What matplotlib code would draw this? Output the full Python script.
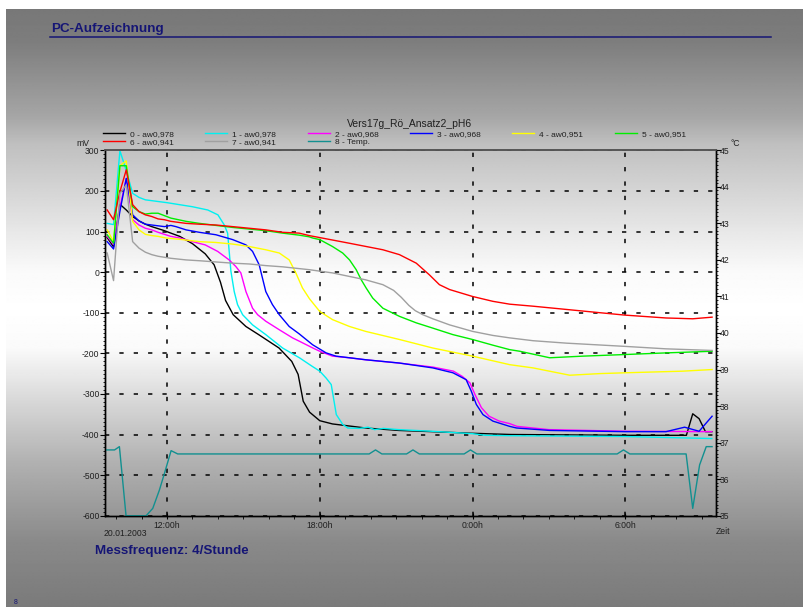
import numpy as np
import matplotlib
matplotlib.use('Agg')
import matplotlib.pyplot as plt
from matplotlib.lines import Line2D
from matplotlib.ticker import FixedLocator, MultipleLocator, FuncFormatter

plt.rcParams['font.family'] = ['Liberation Sans', 'DejaVu Sans']
plt.rcParams['axes.unicode_minus'] = False

# ---------------- data (hours since midnight of 20.01.2003) ----------------
labels = ['0 - aw0,978', '1 - aw0,978', '2 - aw0,968', '3 - aw0,968', '4 - aw0,951',
          '5 - aw0,951', '6 - aw0,941', '7 - aw0,941', '8 - Temp.']
colors = ['#000000', '#00f0f0', '#ff00ff', '#0000ff', '#ffff00',
          '#00ee00', '#ff0000', '#a0a0a0', '#129090']

t0 = [9.65, 9.90, 10.15, 10.40, 10.65, 10.90, 11.15, 11.40, 11.65, 11.90, 12.15, 12.5, 13.0, 13.5,
      13.85, 14.1, 14.3, 14.6, 15.1, 15.6, 16.4, 16.9, 17.15, 17.35, 17.6, 18.0, 18.5, 19.8, 21.1,
      22.4, 24.0, 25.5, 30.0, 32.4, 32.65, 32.9, 33.15, 33.4]
mv0 = [85, 62, 167, 153, 137, 126, 118, 112, 107, 102, 96, 88, 70, 45,
       18, -25, -70, -105, -134, -154, -187, -220, -252, -318, -345, -366, -374, -384, -390,
       -393, -397, -400, -402, -402, -349, -361, -393, -393]

t1 = [9.65, 9.90, 10.15, 10.40, 10.65, 10.90, 11.15, 12.0, 13.0, 13.6, 14.0, 14.25, 14.38, 14.51,
      14.64, 14.77, 14.97, 15.36, 15.88, 16.54, 17.2, 17.7, 18.0, 18.25, 18.45, 18.65, 18.9, 19.1,
      19.55, 19.9, 20.15, 20.5, 21.1, 22.4, 24.0, 24.5, 25.5, 30.0, 33.4]
mv1 = [120, 117, 299, 250, 194, 184, 178, 171, 161, 153, 141, 116, 96, 2,
       -48, -80, -105, -130, -154, -187, -211, -232, -244, -261, -277, -351, -375, -384,
       -385, -382, -388, -385, -388, -392, -398, -402, -403, -405, -410]

t2 = [9.65, 9.90, 10.15, 10.40, 10.65, 10.90, 11.15, 11.40, 11.65, 11.90, 12.15, 12.5, 13.0, 13.5,
      13.99, 14.44, 14.7, 14.9, 15.1, 15.36, 15.56, 15.88, 16.41, 16.93, 17.19, 17.73, 18.0, 18.5,
      19.15, 19.8, 21.1, 22.45, 23.25, 23.6, 23.9, 24.1, 24.35, 24.65, 25.05, 25.45, 25.75, 27.0,
      30.0, 33.4]
mv2 = [88, 68, 160, 230, 129, 116, 108, 104, 98, 93, 88, 84, 75, 67,
       51, 30, 14, -2, -48, -89, -105, -121, -142, -162, -170, -187, -195, -207,
       -211, -216, -224, -234, -244, -257, -273, -302, -334, -355, -367, -373, -380, -388,
       -392, -393]

t3 = [9.65, 9.90, 10.15, 10.40, 10.65, 10.90, 11.15, 11.40, 11.65, 11.90, 12.15, 12.35, 12.75, 13.27,
      13.92, 14.58, 15.1, 15.36, 15.62, 15.75, 15.88, 16.14, 16.41, 16.8, 17.19, 17.72, 18.25, 18.64,
      19.82, 21.13, 22.44, 23.23, 23.75, 23.95, 24.15, 24.41, 24.8, 25.46, 25.73, 27.03, 30.0, 31.6,
      32.33, 32.9, 33.41]
mv3 = [75, 57, 150, 231, 141, 126, 118, 116, 114, 112, 115, 112, 104, 98,
       92, 80, 67, 51, 18, -15, -48, -80, -105, -134, -152, -179, -199, -207,
       -216, -224, -236, -248, -265, -293, -326, -351, -367, -380, -384, -390, -393, -393,
       -382, -392, -355]

t4 = [9.65, 9.90, 10.15, 10.40, 10.65, 10.90, 11.15, 11.40, 11.65, 11.96, 12.61, 13.27, 13.92, 14.58,
      15.23, 15.88, 16.41, 16.8, 17.06, 17.32, 17.6, 18.0, 18.5, 19.17, 19.8, 21.13, 22.44, 24.0,
      25.46, 26.38, 27.82, 29.0, 30.0, 32.26, 33.41]
mv4 = [104, 75, 262, 274, 125, 104, 93, 90, 88, 84, 80, 75, 73, 69,
       63, 55, 47, 30, -2, -39, -66, -97, -117, -134, -146, -166, -187, -207,
       -228, -236, -254, -250, -248, -244, -240]

t5 = [9.65, 9.90, 10.15, 10.40, 10.65, 10.90, 11.15, 11.40, 11.65, 11.90, 12.15, 12.75, 13.27, 13.92,
      14.58, 15.23, 15.88, 16.54, 17.19, 17.58, 17.72, 18.0, 18.5, 18.9, 19.17, 19.43, 19.63, 19.82,
      20.08, 20.48, 21.13, 21.79, 22.44, 23.23, 24.0, 24.8, 25.46, 25.86, 27.03, 28.34, 30.0, 31.6,
      33.41]
mv5 = [92, 71, 262, 262, 161, 149, 143, 145, 145, 139, 133, 125, 120, 115,
       110, 106, 102, 96, 91, 87, 84, 80, 63, 47, 30, 6, -19, -39,
       -64, -89, -109, -125, -138, -154, -166, -180, -191, -195, -211, -207, -203, -199,
       -195]

t6 = [9.65, 9.90, 10.15, 10.40, 10.65, 10.90, 11.15, 11.40, 11.65, 11.90, 12.15, 12.75, 13.27, 13.92,
      14.58, 15.23, 15.88, 16.54, 17.19, 17.58, 18.0, 19.17, 20.48, 21.13, 21.79, 22.31, 22.57, 22.7,
      23.1, 24.0, 24.8, 25.46, 26.38, 27.69, 29.0, 30.0, 31.6, 32.65, 33.41]
mv6 = [153, 129, 198, 252, 166, 149, 141, 137, 131, 129, 125, 120, 118, 116,
       112, 108, 104, 98, 96, 90, 85, 71, 55, 43, 22, -7, -23, -31,
       -43, -60, -72, -79, -84, -92, -100, -106, -113, -115, -111]

t7 = [9.65, 9.90, 10.15, 10.40, 10.65, 10.90, 11.15, 11.40, 11.65, 12.15, 12.75, 13.27, 13.92, 14.58,
      15.23, 15.88, 16.54, 17.58, 18.5, 19.8, 20.48, 20.9, 21.2, 21.5, 21.75, 22.05, 22.44, 23.1,
      24.0, 24.8, 25.46, 26.38, 27.69, 30.0, 31.6, 33.41]
mv7 = [47, -21, 194, 215, 75, 59, 49, 43, 39, 34, 30, 28, 25, 22,
       20, 16, 13, 6, -2, -19, -31, -45, -62, -82, -95, -105, -115, -130,
       -146, -156, -162, -169, -175, -183, -189, -193]

t_temp = [9.61, 9.94, 10.13, 10.39, 10.65, 10.90, 11.18, 11.44, 11.70, 11.90, 12.16, 12.42,
          19.94, 20.19, 20.44, 21.41, 21.66, 21.91, 23.67, 23.92, 24.17, 29.68, 29.93, 30.18,
          32.39, 32.65, 32.92, 33.18, 33.41]
temp_c = [36.80, 36.80, 36.89, 35.0, 35.0, 35.0, 35.0, 35.2, 35.7, 36.16, 36.78, 36.69,
          36.69, 36.80, 36.69, 36.69, 36.80, 36.69, 36.69, 36.80, 36.69, 36.69, 36.80, 36.69,
          36.69, 35.2, 36.39, 36.89, 36.89]

mv_times = [t0, t1, t2, t3, t4, t5, t6, t7]
mv_values = [mv0, mv1, mv2, mv3, mv4, mv5, mv6, mv7]

x_major = [12, 18, 24, 30]
x_range = (9.564, 33.564)
mv_range = (-600, 300)
temp_range = (35, 45)

# ---------------- figure ----------------
W, H = 804, 607
fig = plt.figure(figsize=(W / 100, H / 100), dpi=100)
fig.patch.set_facecolor('white')

navy = '#151575'
txt = '#202020'

# slide background gradient
bg = fig.add_axes([0, 0, 1, 1], zorder=-10)
bg.set_xlim(0, W)
bg.set_ylim(H, 0)
bg.axis('off')
ys = np.linspace(9, H, 400)
stops_y = [9, 40, 116, 143, 271, 310, 349, 388, 465, 543, 607]
stops_c = [0.47, 0.49, 0.65, 0.75, 0.98, 1.0, 0.98, 0.88, 0.69, 0.54, 0.48]
col = np.interp(ys, stops_y, stops_c)
img = np.repeat(col[:, None], 2, axis=1)
bg.imshow(img, cmap='gray', vmin=0, vmax=1, extent=(6, W, H, 9), aspect='auto',
          interpolation='bilinear')

# main axes
ax = fig.add_axes([105 / W, 1 - 515.7 / H, 611 / W, 365.4 / H])
ax.patch.set_alpha(0)
ax.set_xlim(*x_range)
ax.set_ylim(*mv_range)
ax2 = ax.twinx()
ax2.set_ylim(*temp_range)
ax2.patch.set_alpha(0)

handles = []
for i in range(8):
    h, = ax.plot(mv_times[i], mv_values[i], color=colors[i], lw=1.0, label=labels[i],
                 solid_joinstyle='round')
    handles.append(h)
h, = ax2.plot(t_temp, temp_c, color=colors[8], lw=1.0, label=labels[8])
handles.append(h)

# spines
for a in (ax, ax2):
    a.spines['top'].set_color('#555555')
    a.spines['top'].set_linewidth(1.2)
    for s in ('left', 'bottom', 'right'):
        a.spines[s].set_color('black')
        a.spines[s].set_linewidth(1.0)

# ticks
ax.yaxis.set_major_locator(MultipleLocator(100))
ax.yaxis.set_minor_locator(MultipleLocator(10))
ax2.yaxis.set_major_locator(MultipleLocator(1))
ax2.yaxis.set_minor_locator(MultipleLocator(0.1))
ax.xaxis.set_major_locator(FixedLocator(x_major))
ax.xaxis.set_minor_locator(MultipleLocator(1))
ax.xaxis.set_major_formatter(FuncFormatter(lambda v, p: f"{int(round(v)) % 24}:00h"))
ax.yaxis.set_major_formatter(FuncFormatter(lambda v, p: f"{int(round(v))}"))
ax2.yaxis.set_major_formatter(FuncFormatter(lambda v, p: f"{int(round(v))}"))

ax.tick_params(axis='y', which='major', direction='out', length=3.6, width=0.8,
               labelsize=6.2, pad=0.3, labelcolor=txt)
ax.tick_params(axis='y', which='minor', direction='out', length=1.7, width=0.6)
ax2.tick_params(axis='y', which='major', direction='out', length=3.6, width=0.8,
                labelsize=6.2, pad=-1.2, labelcolor=txt)
ax2.tick_params(axis='y', which='minor', direction='out', length=1.7, width=0.6)
ax.tick_params(axis='x', which='major', direction='inout', length=5, width=0.8,
               labelsize=6.2, pad=1.0, labelcolor=txt)
ax.tick_params(axis='x', which='minor', direction='out', length=2.2, width=0.6)

# dashed grid
ax.set_axisbelow(True)
ax.grid(True, which='major', axis='both', color='black', linestyle=(0, (2.8, 6.6)),
        linewidth=1.1)

# legend (row-major arrangement)
order = [0, 6, 1, 7, 2, 8, 3, 4, 5]
fig.legend([handles[i] for i in order], [labels[i] for i in order], ncol=6,
           loc='upper left', bbox_to_anchor=(103 / W, 1 - 130.5 / H), frameon=False,
           fontsize=6, handlelength=2.64, handletextpad=0.6, columnspacing=3.78,
           labelspacing=0.0, borderpad=0, borderaxespad=0, labelcolor=txt)

# texts
fig.text(410 / W, 1 - 124 / H, 'Vers17g_Rö_Ansatz2_pH6', ha='center', va='center',
         fontsize=7.5, color=txt)
fig.text(83 / W, 1 - 144 / H, 'mV', ha='center', va='center', fontsize=6.2, color=txt)
fig.text(735 / W, 1 - 143 / H, '°C', ha='center', va='center', fontsize=6.2, color=txt)
fig.text(716 / W, 1 - 532 / H, 'Zeit', ha='left', va='center', fontsize=6.2, color=txt)
fig.text(104 / W, 1 - 533 / H, '20.01.2003', ha='left', va='center', fontsize=6.2, color=txt)

fig.text(51 / W, 1 - 29 / H, 'PC-Aufzeichnung', ha='left', va='center', fontsize=9.7,
         fontweight='bold', color=navy)
fig.add_artist(Line2D([50 / W, 771 / W], [1 - 37 / H, 1 - 37 / H], color=navy, lw=1.1))
fig.text(95 / W, 1 - 551 / H, 'Messfrequenz: 4/Stunde', ha='left', va='center', fontsize=9.6,
         fontweight='bold', color=navy)
fig.text(16 / W, 1 - 603 / H, '8', ha='center', va='center', fontsize=5, color=navy)

fig.savefig('out.png', dpi=100)
